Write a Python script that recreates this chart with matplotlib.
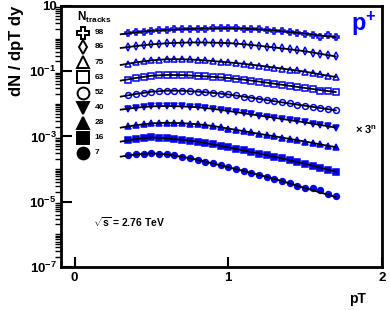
import matplotlib
matplotlib.use("Agg")
import matplotlib.pyplot as plt
from matplotlib.ticker import FixedLocator, LogLocator, NullFormatter

plt.rcParams['font.family'] = ['Liberation Sans', 'DejaVu Sans']
plt.rcParams['font.weight'] = 'bold'
plt.rcParams['mathtext.fontset'] = 'custom'
plt.rcParams['mathtext.rm'] = 'Liberation Sans:bold'
plt.rcParams['mathtext.bf'] = 'Liberation Sans:bold'
plt.rcParams['mathtext.it'] = 'Liberation Sans:bold'

# pT bins of the measured points
pt = [0.35, 0.40, 0.45, 0.50, 0.55, 0.60, 0.65, 0.70, 0.75, 0.80, 0.85, 0.90, 0.95, 1.00,
      1.05, 1.10, 1.15, 1.20, 1.25, 1.30, 1.35, 1.40, 1.45, 1.50, 1.55, 1.60, 1.65, 1.70]

# pT points of the fit curves
pt_fit = [0.3, 0.4, 0.5, 0.6, 0.7, 0.8, 0.9, 1.0, 1.1, 1.2, 1.3, 1.4, 1.5, 1.6, 1.7]

ntracks = ['98', '86', '75', '63', '52', '40', '28', '16', '7']

# dN/dpTdy x 3^n
y98 = [1.46, 1.55, 1.64, 1.72, 1.80, 1.84, 1.89, 1.93, 1.97, 2.00, 2.02, 2.04, 2.06, 2.07,
       2.06, 2.02, 1.96, 1.90, 1.84, 1.76, 1.67, 1.58, 1.49, 1.41, 1.30, 1.12, 1.28, 1.10]
y86 = [0.550, 0.589, 0.631, 0.661, 0.692, 0.716, 0.736, 0.748, 0.757, 0.759, 0.755, 0.748, 0.738, 0.724,
       0.708, 0.671, 0.635, 0.600, 0.565, 0.531, 0.499, 0.468, 0.437, 0.407, 0.372, 0.339, 0.309, 0.282]
y75 = [0.170, 0.186, 0.200, 0.214, 0.224, 0.232, 0.233, 0.232, 0.228, 0.222, 0.214, 0.204, 0.195, 0.186,
       0.179, 0.168, 0.158, 0.148, 0.138, 0.129, 0.120, 0.112, 0.105, 0.0966, 0.0881, 0.0794, 0.0724, 0.0640]
y63 = [0.0540, 0.0617, 0.0676, 0.0724, 0.0750, 0.0764, 0.0766, 0.0759, 0.0741, 0.0716, 0.0692, 0.0668, 0.0646, 0.0617,
       0.0589, 0.0550, 0.0513, 0.0479, 0.0444, 0.0412, 0.0385, 0.0355, 0.0331, 0.0305, 0.0285, 0.0255, 0.0245, 0.0235]
y52 = [0.0180, 0.0200, 0.0219, 0.0234, 0.0245, 0.0252, 0.0253, 0.0250, 0.0244, 0.0236, 0.0226, 0.0216, 0.0204, 0.0193,
       0.0181, 0.0166, 0.0153, 0.0141, 0.0131, 0.0120, 0.0111, 0.0102, 0.00944, 0.00871, 0.00804, 0.00741, 0.00684, 0.00631]
y40 = [0.00708, 0.00759, 0.00804, 0.00832, 0.00851, 0.00857, 0.00851, 0.00832, 0.00813, 0.00785, 0.00750, 0.00700, 0.00653, 0.00603,
       0.00555, 0.00513, 0.00473, 0.00437, 0.00402, 0.00372, 0.00343, 0.00316, 0.00292, 0.00269, 0.00245, 0.00224, 0.00204, 0.00186]
y28 = [2.04e-3, 2.21e-3, 2.37e-3, 2.51e-3, 2.59e-3, 2.63e-3, 2.60e-3, 2.54e-3, 2.45e-3, 2.36e-3, 2.24e-3, 2.09e-3, 1.93e-3, 1.74e-3,
       1.58e-3, 1.45e-3, 1.32e-3, 1.20e-3, 1.10e-3, 1.01e-3, 9.18e-4, 8.38e-4, 7.64e-4, 6.97e-4, 6.31e-4, 5.69e-4, 5.13e-4, 4.68e-4]
y16 = [7.59e-4, 8.32e-4, 9.02e-4, 9.33e-4, 9.12e-4, 8.75e-4, 8.32e-4, 7.85e-4, 7.41e-4, 6.92e-4, 6.31e-4, 5.69e-4, 5.13e-4, 4.59e-4,
       4.14e-4, 3.72e-4, 3.33e-4, 2.99e-4, 2.69e-4, 2.40e-4, 2.11e-4, 1.86e-4, 1.64e-4, 1.45e-4, 1.26e-4, 1.10e-4, 9.55e-5, 8.32e-5]
y7 = [2.63e-4, 2.82e-4, 2.99e-4, 3.03e-4, 2.96e-4, 2.82e-4, 2.60e-4, 2.37e-4, 2.14e-4, 1.93e-4, 1.70e-4, 1.48e-4, 1.29e-4, 1.14e-4,
      1.00e-4, 8.71e-5, 7.59e-5, 6.61e-5, 5.81e-5, 5.01e-5, 4.27e-5, 3.63e-5, 3.09e-5, 2.63e-5, 2.55e-5, 2.30e-5, 1.75e-5, 1.45e-5]

# fit curves
f98 = [1.35, 1.55, 1.72, 1.84, 1.93, 2.00, 2.04, 2.07, 2.02, 1.90, 1.76, 1.58, 1.41, 1.24, 1.10]
f86 = [0.513, 0.589, 0.661, 0.716, 0.748, 0.759, 0.748, 0.724, 0.671, 0.600, 0.531, 0.468, 0.407, 0.339, 0.282]
f75 = [0.155, 0.186, 0.214, 0.232, 0.232, 0.222, 0.204, 0.186, 0.168, 0.148, 0.129, 0.112, 0.0966, 0.0794, 0.0661]
f63 = [0.0513, 0.0617, 0.0724, 0.0764, 0.0759, 0.0716, 0.0668, 0.0617, 0.0550, 0.0479, 0.0412, 0.0355, 0.0305, 0.0263, 0.0229]
f52 = [0.0166, 0.0200, 0.0234, 0.0252, 0.0250, 0.0236, 0.0216, 0.0193, 0.0166, 0.0141, 0.0120, 0.0102, 0.00871, 0.00741, 0.00631]
f40 = [0.00661, 0.00759, 0.00832, 0.00857, 0.00832, 0.00785, 0.00700, 0.00603, 0.00513, 0.00437, 0.00372, 0.00316, 0.00269, 0.00224, 0.00186]
f28 = [1.86e-3, 2.21e-3, 2.51e-3, 2.63e-3, 2.54e-3, 2.36e-3, 2.09e-3, 1.74e-3, 1.45e-3, 1.20e-3, 1.01e-3, 8.38e-4, 6.97e-4, 5.69e-4, 4.68e-4]
f16 = [6.92e-4, 8.32e-4, 9.33e-4, 8.75e-4, 7.85e-4, 6.92e-4, 5.69e-4, 4.59e-4, 3.72e-4, 2.99e-4, 2.40e-4, 1.86e-4, 1.45e-4, 1.10e-4, 8.32e-5]
f7 = [2.40e-4, 2.82e-4, 3.03e-4, 2.82e-4, 2.37e-4, 1.93e-4, 1.48e-4, 1.14e-4, 8.71e-5, 6.61e-5, 5.01e-5, 3.63e-5, 2.63e-5, 1.91e-5, 1.38e-5]

data = [y98, y86, y75, y63, y52, y40, y28, y16, y7]
fits = [f98, f86, f75, f63, f52, f40, f28, f16, f7]
markers = ['P', 'd', '^', 's', 'o', 'v', '^', 's', 'o']
filled = [False, False, False, False, False, True, True, True, True]

blue = '#0000ff'

fig = plt.figure(figsize=(3.9, 3.1), dpi=100)
ax = fig.add_axes([0.156, 0.139, 0.823, 0.842])

for y, f, m, fl in zip(data, fits, markers, filled):
    ax.plot(pt, y, linestyle='none', marker=m, ms=4.2, mew=1.1, color=blue,
            markerfacecolor=blue if fl else 'none', markeredgecolor=blue)
    ax.plot(pt_fit, f, color='black', lw=1.3)

ax.set_yscale('log')
ax.set_xlim(-0.09, 2.0)
ax.set_ylim(1e-7, 10)

ax.yaxis.set_major_locator(FixedLocator([1e-7, 1e-5, 1e-3, 1e-1, 10]))
ax.set_yticklabels(['$10^{-7}$', '$10^{-5}$', '$10^{-3}$', '$10^{-1}$', '10'])
ax.yaxis.set_minor_locator(LogLocator(base=10, subs=[1, 2, 3, 4, 5, 6, 7, 8, 9], numticks=20))
ax.yaxis.set_minor_formatter(NullFormatter())
ax.set_xticks([0, 1, 2])
ax.set_xticklabels(['0', '1', '2'])

ax.tick_params(axis='both', direction='in', width=1.5, labelsize=9.5)
ax.tick_params(axis='y', which='major', length=8, pad=3)
ax.tick_params(axis='y', which='minor', length=4, width=1.0)
ax.tick_params(axis='x', which='major', length=7, pad=4)
ax.tick_params(axis='x', which='minor', length=0)
for sp in ax.spines.values():
    sp.set_linewidth(2)

ax.set_ylabel('dN / dpT dy', fontsize=12, fontweight='bold', loc='top', labelpad=4)
ax.set_xlabel('pT', fontsize=10, fontweight='bold', loc='right', labelpad=1)
ax.xaxis.set_label_coords(0.95, -0.095)

# marker legend drawn by hand, black symbols
ax.text(0.05, 0.985, 'N$_{\\mathregular{tracks}}$', transform=ax.transAxes, fontsize=8.5,
        ha='left', va='top')
leg_y = [0.897, 0.843, 0.785, 0.726, 0.668, 0.610, 0.552, 0.494, 0.437]
leg_ms = [8.5, 7, 8.5, 8.5, 8.5, 8.5, 8.5, 8, 8.5]
for ly, lab, m, fl, ms in zip(leg_y, ntracks, markers, filled, leg_ms):
    ax.plot([0.068], [ly], transform=ax.transAxes, marker=m, ms=ms, mew=1.4, color='black',
            markerfacecolor='black' if fl else 'none', linestyle='none', clip_on=False)
    ax.text(0.105, ly, lab, transform=ax.transAxes, fontsize=6, ha='left', va='center')

ax.text(0.985, 0.985, 'p$^{+}$', transform=ax.transAxes, color=blue, fontsize=17,
        ha='right', va='top')
ax.text(0.985, 0.525, '$\\times$ 3$^{n}$', transform=ax.transAxes, fontsize=8,
        ha='right', va='center')
ax.text(0.10, 0.17, '$\\sqrt{s}$ = 2.76 TeV', transform=ax.transAxes, fontsize=7.5,
        ha='left', va='center')

fig.savefig('out.png', dpi=100)
